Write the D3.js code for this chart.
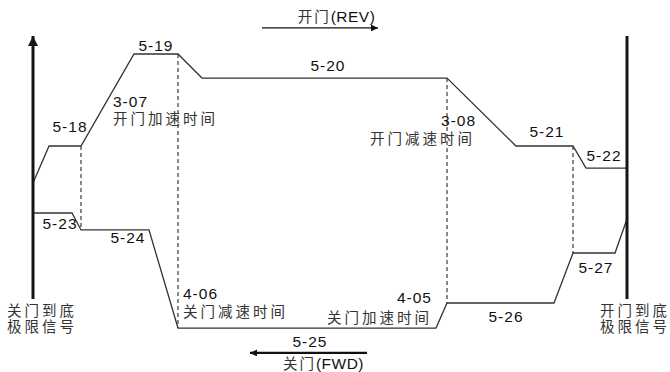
<!DOCTYPE html>
<html>
<head>
<meta charset="utf-8">
<script src="https://cdn.jsdelivr.net/npm/d3@7"></script>
<style>
  body { margin: 0; background: #fff; }
  .code { font-family: "Liberation Sans", Arial, sans-serif; font-size: 15.5px; letter-spacing: 1px; fill: #111; }
  .cjk { font-family: "Noto Sans CJK SC", sans-serif; font-size: 14.5px; letter-spacing: 3px; fill: #333; }
</style>
</head>
<body>
<svg id="chart"></svg>
<script>
// time in % of the run (0 = close limit, 100 = open limit), speed in %
var openTimes  = [0, 2.7, 8.08, 17.0, 24.41, 28.45, 69.7, 81.31, 90.91, 93.1, 100];
var openSpeed  = [10.4, 36.1, 36.1, 100, 100, 83.3, 83.3, 36.1, 36.1, 20.8, 20.8];
var closeTimes = [0, 6.57, 8.08, 19.53, 24.41, 67.85, 69.7, 87.71, 90.91, 97.98, 100];
var closeSpeed = [-10.4, -10.4, -22.2, -22.2, -90.3, -90.3, -72.9, -72.9, -38.2, -38.2, -14.6];
// switch points where the dashed guides run
var switchTimes = [8.08, 24.41, 69.7, 90.91];
var limitTimes = [0, 100];
var limitRange = [112.5, -70.1];

// parameter labels: text, time, speed, anchor
var codeLabels = [
  ["5-18", 6.23, 45.8, "middle"],
  ["5-19", 20.7, 102.1, "middle"],
  ["3-07", 13.47, 63.2, "start"],
  ["5-20", 49.66, 88.2, "middle"],
  ["3-08", 68.69, 50, "start"],
  ["5-21", 86.53, 42.4, "middle"],
  ["5-22", 96.13, 25.7, "middle"],
  ["5-23", 4.55, -21.5, "middle"],
  ["5-24", 15.99, -31.25, "middle"],
  ["4-06", 25.25, -70.4, "start"],
  ["4-05", 67.17, -73.2, "end"],
  ["5-25", 46.63, -103.5, "middle"],
  ["5-26", 79.63, -86.1, "middle"],
  ["5-27", 94.78, -52.1, "middle"]
];
var cjkLabels = [
  ["开门加速时间", 13.47, 51.4, "start"],
  ["开门减速时间", 74.41, 37.5, "end"],
  ["关门减速时间", 25.25, -82.6, "start"],
  ["关门加速时间", 67.17, -86.5, "end"],
  ["关门到底", -4.38, -81.9, "start"],
  ["极限信号", -4.38, -93.4, "start"],
  ["开门到底", 95.45, -81.9, "start"],
  ["极限信号", 95.45, -93.4, "start"]
];
// direction arrows: from/to time at a speed level, caption centred at tc/tv
var arrows = [
  { from: 38.55, to: 58.08, v: 118.1, text: "开门", dir: "(REV)", tv: 122.2, tc: 51.1 },
  { from: 56.23, to: 36.53, v: -107.6, text: "关门", dir: "(FWD)", tv: -118.9, tc: 48.9 }
];

var width = 670, height = 372;
var svg = d3.select("#chart").attr("width", width).attr("height", height);

var x = d3.scaleLinear().domain([0, 100]).range([33, 627]);
var y = d3.scaleLinear().domain([-100, 100]).range([342, 54]);

var defs = svg.append("defs");
defs.append("marker").attr("id", "headBig")
    .attr("viewBox", "0 0 10 10").attr("refX", 10).attr("refY", 5)
    .attr("markerWidth", 10).attr("markerHeight", 10).attr("markerUnits", "userSpaceOnUse")
    .attr("orient", "auto")
  .append("path").attr("d", "M0,0L10,5L0,10Z").attr("fill", "#1a1410");
defs.append("marker").attr("id", "headSmall")
    .attr("viewBox", "0 0 10 10").attr("refX", 10).attr("refY", 5)
    .attr("markerWidth", 9).attr("markerHeight", 7).attr("markerUnits", "userSpaceOnUse")
    .attr("orient", "auto")
  .append("path").attr("d", "M0,0L10,5L0,10Z").attr("fill", "#111");

var line = d3.line().x(d => x(d[0])).y(d => y(d[1]));

// dashed switch guides
svg.selectAll(".guide")
    .data(switchTimes).enter()
    .append("line")
    .attr("class", "guide")
    .attr("x1", d => x(d)).attr("x2", d => x(d))
    .attr("y1", d => y(openSpeed[openTimes.indexOf(d)]))
    .attr("y2", d => y(closeSpeed[closeTimes.indexOf(d)]))
    .attr("stroke", "#111").attr("stroke-width", 1)
    .attr("stroke-dasharray", "4,3");

// speed profiles
svg.append("path")
    .attr("d", line(d3.zip(openTimes, openSpeed)))
    .attr("fill", "none").attr("stroke", "#333").attr("stroke-width", 1.3);
svg.append("path")
    .attr("d", line(d3.zip(closeTimes, closeSpeed)))
    .attr("fill", "none").attr("stroke", "#333").attr("stroke-width", 1.3);

// limit switch bars (left one has an arrow)
svg.selectAll(".limit")
    .data(limitTimes).enter()
    .append("line")
    .attr("class", "limit")
    .attr("x1", d => x(d)).attr("x2", d => x(d))
    .attr("y1", y(limitRange[1]))
    .attr("y2", y(limitRange[0]))
    .attr("stroke", "#1a1410").attr("stroke-width", 3)
    .attr("marker-end", (d, i) => i == 0 ? "url(#headBig)" : null);

// direction arrows
svg.selectAll(".dir")
    .data(arrows).enter()
    .append("line")
    .attr("class", "dir")
    .attr("x1", d => x(d.from)).attr("x2", d => x(d.to))
    .attr("y1", d => y(d.v)).attr("y2", d => y(d.v))
    .attr("stroke", "#111")
    .attr("stroke-width", (d, i) => i == 0 ? 1.3 : 2.2)
    .attr("marker-end", "url(#headSmall)");

var cap = svg.selectAll(".cap")
    .data(arrows).enter()
    .append("text")
    .attr("class", "cap")
    .attr("x", d => x(d.tc)).attr("y", d => y(d.tv))
    .attr("text-anchor", "middle");
cap.append("tspan").attr("class", "cjk").style("letter-spacing", "2px").text(d => d.text);
cap.append("tspan").attr("class", "code").style("letter-spacing", "0.5px").text(d => d.dir);

svg.selectAll(".codeLabel")
    .data(codeLabels).enter()
    .append("text")
    .attr("class", "code")
    .attr("x", d => x(d[1])).attr("y", d => y(d[2]))
    .attr("text-anchor", d => d[3])
    .text(d => d[0]);

svg.selectAll(".cjkLabel")
    .data(cjkLabels).enter()
    .append("text")
    .attr("class", "cjk")
    .attr("x", d => x(d[1])).attr("y", d => y(d[2]))
    .attr("text-anchor", d => d[3])
    .text(d => d[0]);
</script>
</body>
</html>
